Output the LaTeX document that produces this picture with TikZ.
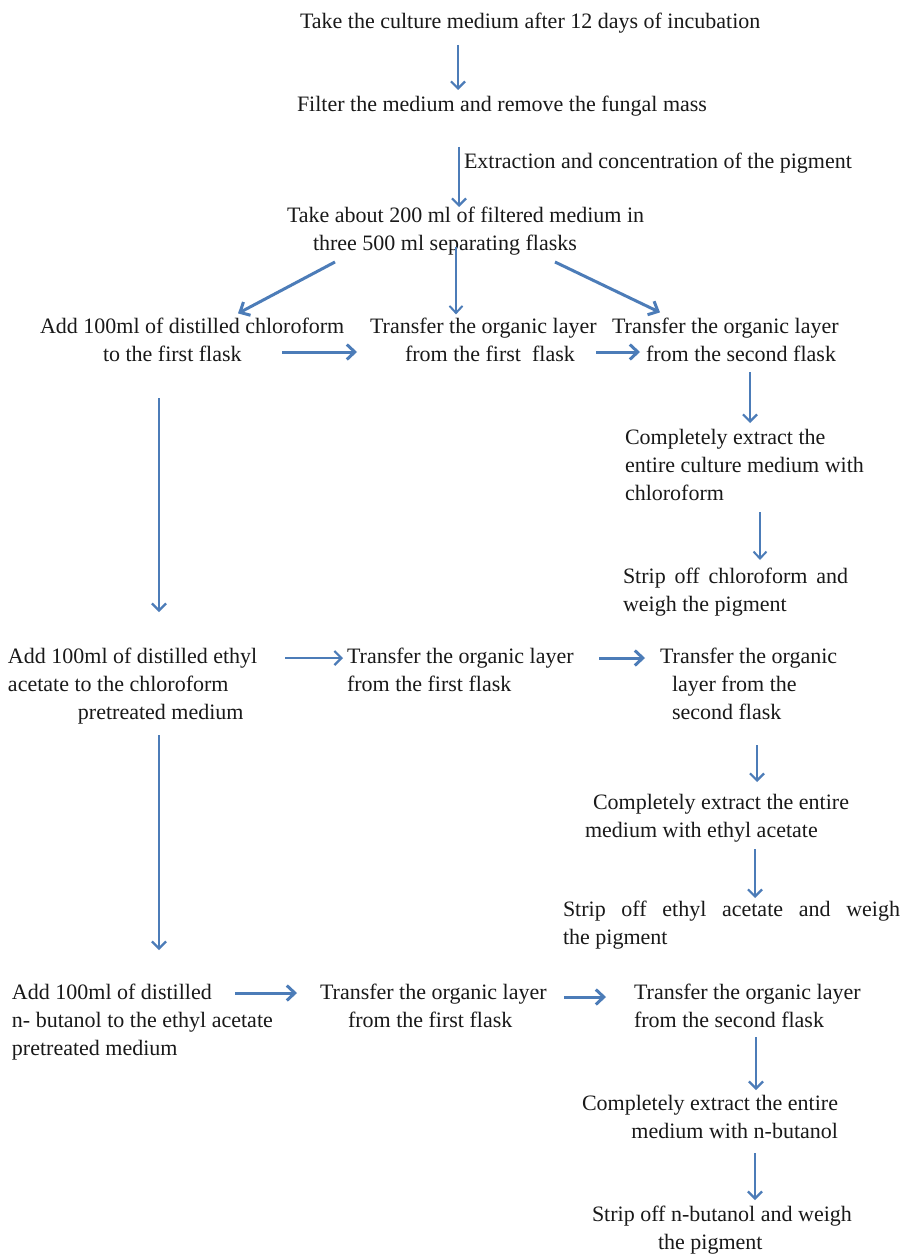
\documentclass[tikz,border=0pt]{standalone}
\usepackage{fontspec}
\setmainfont{Liberation Serif}
\usetikzlibrary{arrows.meta,calc}
\definecolor{arrblue}{RGB}{76,124,184}
\newcommand\fs{\fontsize{22}{28}\selectfont}
\begin{document}
\begin{tikzpicture}[x=1pt,y=-1pt,
  txt/.style={inner sep=0pt,outer sep=0pt,font=\fs,align=left,anchor=north west,text=black!90},
  arr/.style={draw=arrblue,line width=2.2pt,-{Straight Barb[length=7pt,width=14pt]}},
  thinarr/.style={draw=arrblue,line width=1.5pt,-{Straight Barb[length=7pt,width=13pt,line width=2pt]}},
  thickarr/.style={draw=arrblue,line width=3pt,-{Straight Barb[length=8pt,width=15pt]}}]
\useasboundingbox[fill=white] (0,0) rectangle (903,1257);

% text blocks
\node[txt] (t1) at (300,9.4) {\strut Take the culture medium after 12 days of incubation\strut};
\node[txt] (t2) at (297,92.4) {\strut Filter the medium and remove the fungal mass\strut};
\node[txt] (lab) at (464,149.4) {\strut Extraction and concentration of the pigment\strut};
\node[txt] (t3) at (287,203.4) {\strut Take about 200 ml of filtered medium in\\\hspace*{26pt}three 500 ml separating flasks\strut};

\node[txt] (a1) at (40,313.4) {\strut Add 100ml of distilled chloroform\\\hspace*{63pt}to the first flask\strut};
\node[txt] (b1) at (370,313.4) {\strut Transfer the organic layer\\\hspace*{35pt}from the first\ \ flask\strut};
\node[txt] (c1) at (612,313.4) {\strut Transfer the organic layer\\\hspace*{34pt}from the second flask\strut};
\node[txt] (e1) at (625,424.4) {\strut Completely extract the\\entire culture medium with\\chloroform\strut};
\node[txt] (s1) at (623,563.4) {\strut\makebox[225pt][s]{Strip off chloroform and}\\weigh the pigment\strut};

\node[txt] (a2) at (8,643.4) {\strut Add 100ml of distilled ethyl\\acetate to the chloroform\\\hspace*{70pt}pretreated medium\strut};
\node[txt] (b2) at (347,643.4) {\strut Transfer the organic layer\\from the first flask\strut};
\node[txt] (c2) at (660,643.4) {\strut Transfer the organic\\\hspace*{12pt}layer from the\\\hspace*{12pt}second flask\strut};
\node[txt] (e2) at (585,789.4) {\strut\hspace*{8pt}Completely extract the entire\\medium with ethyl acetate\strut};
\node[txt] (s2) at (563,896.4) {\strut\makebox[337pt][s]{Strip off ethyl acetate and weigh}\\the pigment\strut};

\node[txt] (a3) at (12,979.4) {\strut Add 100ml of distilled\\n- butanol to the ethyl acetate\\pretreated medium\strut};
\node[txt] (b3) at (320,979.4) {\strut Transfer the organic layer\\\hspace*{28pt}from the first flask\strut};
\node[txt] (c3) at (634,979.4) {\strut Transfer the organic layer\\from the second flask\strut};
\node[txt,align=right,anchor=north east] (e3) at (838,1090.4) {\strut Completely extract the entire\\medium with n-butanol\strut};
\node[txt] (s3) at (592,1201.4) {\strut Strip off n-butanol and weigh\\\hspace*{66pt}the pigment\strut};

% top chain
\draw[arr] ($(t1.south -| 458,0)+(0,7.6)$) -- ($(t2.north -| 458,0)+(0,-2.4)$);
\draw[arr] ($(t2.south -| 459,0)+(0,26.6)$) -- ($(t3.north -| 459,0)+(0,3.6)$);

% split
\draw[thickarr] ($(t3.south -| 335,0)+(0,2.6)$) -- ($(a1.north -| 238,0)+(0,0)$);
\draw[thinarr] ($(t3.south -| 456,0)+(0,-12.4)$) -- ($(b1.north -| 456,0)+(0,1)$);
\draw[thickarr] ($(t3.south -| 555,0)+(0,2.6)$) -- ($(c1.north -| 660,0)+(0,-1)$);

% row 1
\draw[thickarr] ($(a1.south -| 282,0)+(0,-17.4)$) -- ($(b1.south -| 357,0)+(0,-17.4)$);
\draw[thickarr] ($(b1.south -| 596,0)+(0,-17.4)$) -- ($(c1.south -| 640,0)+(0,-17.4)$);
\draw[arr] ($(c1.south -| 750,0)+(0,2.6)$) -- ($(e1.north -| 750,0)+(0,-1.4)$);
\draw[thinarr] ($(e1.south -| 760,0)+(0,3.6)$) -- ($(s1.north -| 760,0)+(0,-3.4)$);
\draw[arr] ($(a1.south -| 159,0)+(0,28.6)$) -- ($(a2.north -| 159,0)+(0,-31.4)$);

% row 2
\draw[arr] ($(a2.north -| 285,0)+(0,14.6)$) -- ($(b2.north -| 343,0)+(0,14.6)$);
\draw[thickarr] ($(b2.north -| 599,0)+(0,14.6)$) -- ($(c2.north -| 645,0)+(0,14.6)$);
\draw[arr] ($(c2.south -| 757,0)+(0,17.6)$) -- ($(e2.north -| 757,0)+(0,-7.4)$);
\draw[arr] ($(e2.south -| 755,0)+(0,3.6)$) -- ($(s2.north -| 755,0)+(0,1.6)$);
\draw[arr] ($(a2.south -| 159,0)+(0,7.6)$) -- ($(a3.north -| 159,0)+(0,-29.4)$);

% row 3
\draw[thickarr] ($(a3.north -| 235,0)+(0,13.6)$) -- ($(b3.north -| 297,0)+(0,13.6)$);
\draw[thickarr] ($(b3.north -| 564,0)+(0,17.6)$) -- ($(c3.north -| 606,0)+(0,17.6)$);
\draw[arr] ($(c3.south -| 756,0)+(0,1.6)$) -- ($(e3.north -| 756,0)+(0,-0.4)$);
\draw[arr] ($(e3.south -| 755,0)+(0,6.6)$) -- ($(s3.north -| 755,0)+(0,-1.4)$);
\end{tikzpicture}
\end{document}
